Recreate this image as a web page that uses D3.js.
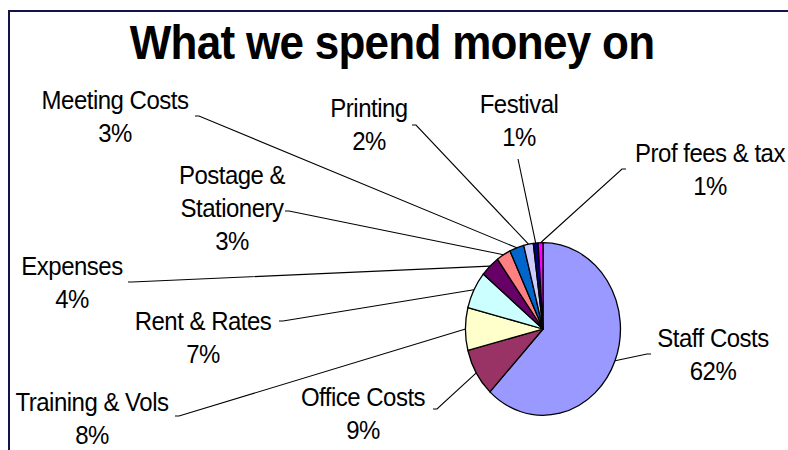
<!DOCTYPE html>
<html>
<head>
<meta charset="utf-8">
<script src="https://cdn.jsdelivr.net/npm/d3@7/dist/d3.min.js"></script>
<style>
  html, body { margin: 0; padding: 0; background: #fff; }
  svg { display: block; }
  text { font-family: "Liberation Sans", Arial, sans-serif; fill: #000; }
</style>
</head>
<body>
<svg id="chart" width="788" height="450"></svg>
<script>
// Spending categories, clockwise from twelve o'clock
const categories = [
  "Staff Costs", "Office Costs", "Training & Vols", "Rent & Rates", "Expenses",
  "Postage & Stationery", "Meeting Costs", "Printing", "Festival", "Prof fees & tax"
];
// Share of spending, percent
const shares = [62, 9, 8, 7, 4, 3, 3, 2, 1, 1];
const sliceColors = [
  "#9999FF", "#993366", "#FFFFCC", "#CCFFFF", "#660066",
  "#FF8080", "#0066CC", "#CCCCFF", "#000080", "#FF00FF"
];
const chartTitle = "What we spend money on";

// Label placement: text centre x, first baseline y, leader start point
const labelX      = [713, 363,  92, 203,  72, 232, 115, 369, 519, 710];
const labelY      = [347, 406, 411, 330, 275, 184, 109, 117, 113, 162];
const leaderFromX = [651, 433, 175, 279, 128, 285, 195, 412, 518, 626];
const leaderFromY = [354, 409, 416, 321, 282, 211, 116, 125, 159, 169];

const W = 788, H = 450;
const cx = 543, cy = 329, rx = 77.5, ry = 86.3;
const stretch = ry / rx;      // vertical stretch shared by pie and text
const lineH = 33;

const svg = d3.select("#chart");
svg.append("rect").attr("width", W).attr("height", H).attr("fill", "#fff");

// chart frame
svg.append("rect")
  .attr("x", 9).attr("y", 11).attr("width", W + 20).attr("height", H + 20)
  .attr("fill", "none").attr("stroke", "#14144a").attr("stroke-width", 2);

// title
svg.append("text")
  .attr("transform", `translate(${W / 2 - 2},59) scale(1,${stretch})`)
  .attr("text-anchor", "middle")
  .attr("font-size", 44).attr("font-weight", "bold")
  .attr("letter-spacing", -0.7)
  .text(chartTitle);

const data = categories.map((c, i) => ({ name: c, value: shares[i], i }));
const pie = d3.pie().value(d => d.value).sort(null)
  .startAngle(0).endAngle(2 * Math.PI);
const arcs = pie(data);

// unit arc, stretched into the ellipse by the group transform
const arc = d3.arc().innerRadius(0).outerRadius(1);
const pieG = svg.append("g")
  .attr("transform", `translate(${cx},${cy}) scale(${rx},${ry})`);
pieG.selectAll("path").data(arcs).join("path")
  .attr("d", arc)
  .attr("fill", d => sliceColors[d.data.i])
  .attr("stroke", "#000")
  .attr("stroke-width", 1.3)
  .attr("vector-effect", "non-scaling-stroke")
  .attr("stroke-linejoin", "round");

// point on the rim at a slice's mid angle
const rim = d => {
  const a = (d.startAngle + d.endAngle) / 2;
  return [cx + rx * Math.sin(a), cy - ry * Math.cos(a)];
};

// leader lines
const leaders = svg.append("g").attr("fill", "none").attr("stroke", "#000").attr("stroke-width", 1.1);
arcs.forEach(d => {
  const i = d.data.i;
  const sx = leaderFromX[i], sy = leaderFromY[i];
  const [ex, ey] = rim(d);
  const pts = [[sx, sy]];
  if (i !== 8) pts.push([sx + (ex > sx ? 4 : -4), sy]);
  pts.push([ex, ey]);
  leaders.append("path").attr("d", d3.line()(pts));
});

// labels: name (wrapped if long) and percentage
const wrap = name => {
  if (name.length <= 16) return [name];
  const k = name.lastIndexOf(" ");
  return [name.slice(0, k), name.slice(k + 1)];
};
const fmt = v => d3.format(".0%")(v / 100);
const labels = svg.append("g");
arcs.forEach(d => {
  const i = d.data.i;
  const lines = wrap(d.data.name).concat([fmt(d.data.value)]);
  lines.forEach((t, k) => {
    labels.append("text")
      .attr("transform", `translate(${labelX[i]},${labelY[i] + k * lineH}) scale(1,${stretch * 0.96})`)
      .attr("text-anchor", "middle")
      .attr("font-size", 24)
      .attr("letter-spacing", -0.5)
      .text(t);
  });
});
</script>
</body>
</html>
